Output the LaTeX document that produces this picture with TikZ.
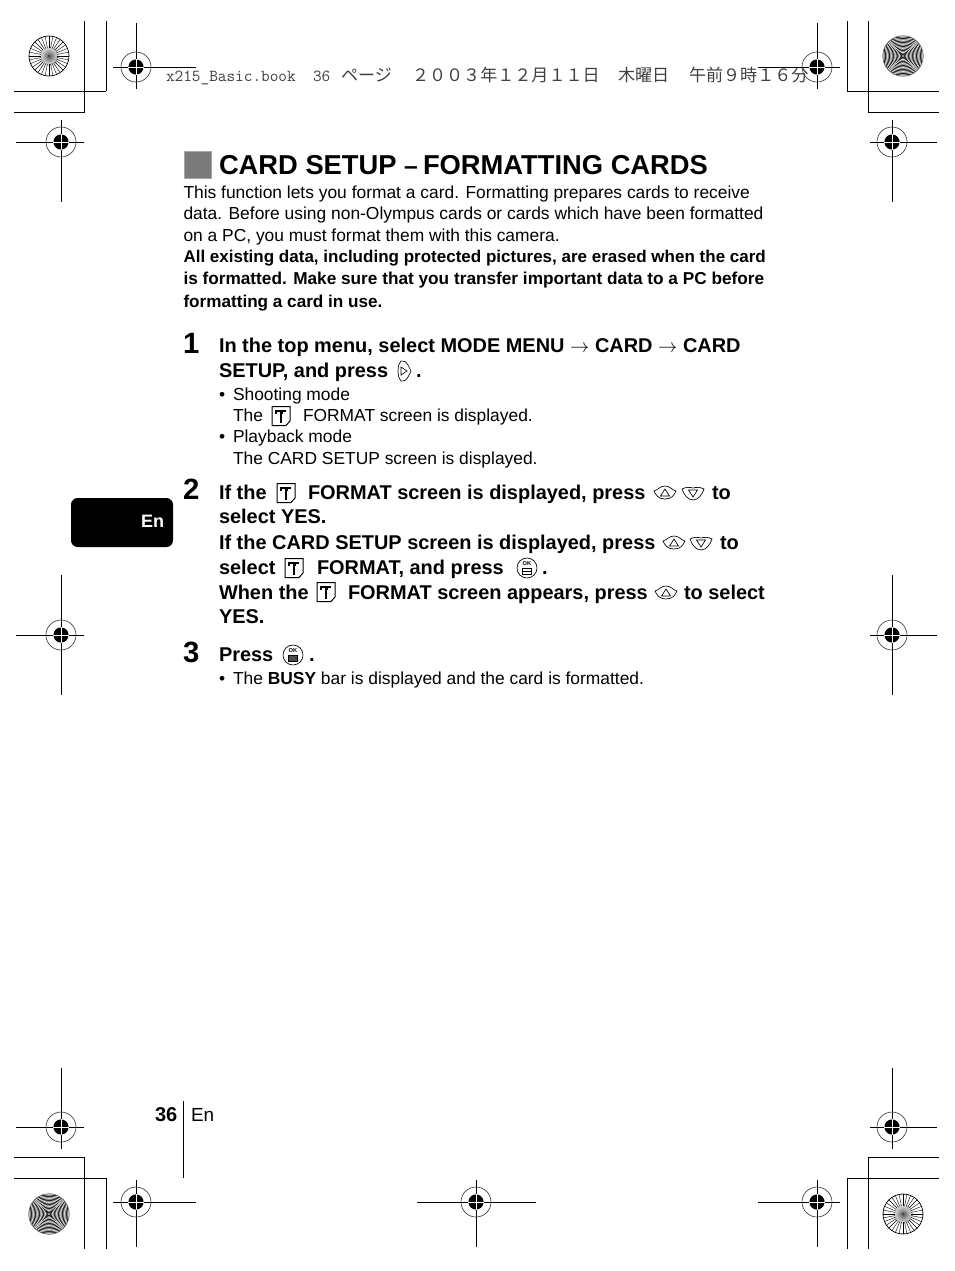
\documentclass[tikz,border=0pt]{standalone}
\usepackage{fontspec}
\setmainfont{Liberation Sans}
\newfontfamily\cjkfont{Noto Sans CJK JP}
\usetikzlibrary{calc}
\definecolor{hdr}{gray}{0.25}
\tikzset{
  x=0.75pt,y=-0.75pt,
  txt/.style={anchor=base west,inner sep=0pt,outer sep=0pt},
  body/.style={txt,font=\fontsize{13.05}{15}\selectfont},
  bodyb/.style={txt,font=\fontsize{12.85}{15}\selectfont\bfseries},
  stepb/.style={txt,font=\fontsize{14.95}{17}\selectfont\bfseries},
  num/.style={txt,font=\fontsize{22}{26}\selectfont\bfseries},
  headb/.style={txt,font=\fontsize{20.5}{26}\selectfont\bfseries},
  hdrmono/.style={txt,text=hdr,font=\fontsize{12.6}{15}\ttfamily},
  hdrcjk/.style={txt,text=hdr,font=\fontsize{12.8}{15}\cjkfont},
  crop/.style={line width=0.75pt,black},
  thin line/.style={line width=0.75pt,black},
  icon/.style={line width=0.5pt,black},
  cardicon/.pic={
    \draw[icon,line width=0.75pt] (-9,-9.5) -- (9,-9.5) -- (9,5) -- (5,9.5) -- (-9,9.5) -- cycle;
    \draw[icon,line width=0.95pt] (0,-5) -- (0,7);
    \draw[icon,line width=0.95pt] (-5,-2.5) -- (-5,-5) -- (5,-5);
    \draw[icon,line width=0.95pt] (-1.5,-3) -- (1.5,-3);
  },
  okicon/.pic={
    \draw[icon] (0,0) circle (10);
    \node[inner sep=0pt,font=\fontsize{4.3}{5}\selectfont\bfseries] at (0,-4.5) {OK};
    \draw[icon,fill=white] (-4.5,0) rectangle (4.5,6);
    \draw[icon,line width=0.4pt] (-4.5,3) -- (4.5,3);
  },
  okiconb/.pic={
    \draw[icon] (0,0) circle (10);
    \node[inner sep=0pt,font=\fontsize{4.3}{5}\selectfont\bfseries] at (0,-4.5) {OK};
    \draw[icon,fill=black!70] (-4.5,0) rectangle (4.5,6);
  },
  upicon/.pic={
    \draw[icon] (-11,-2) .. controls (-7,-3) and (-5,-7) .. (0,-7) .. controls (5,-7) and (7,-3) .. (11,-2) .. controls (9,2) and (7,6) .. (0,6) .. controls (-7,6) and (-9,2) .. (-11,-2) -- cycle;
    \draw[icon] (0,-4) -- (4.5,3) -- (-4.5,3) -- cycle;
  },
  downicon/.pic={
    \draw[icon] (-11,-4) .. controls (-7,-6) and (-4,-6) .. (0,-5) .. controls (4,-6) and (7,-6) .. (11,-4) .. controls (9,2) and (5,7) .. (0,7) .. controls (-5,7) and (-9,2) .. (-11,-4) -- cycle;
    \draw[icon] (0,4) -- (4.5,-3) -- (-4.5,-3) -- cycle;
  },
  righticon/.pic={
    \draw[icon] (-3,-10) .. controls (1,-10) and (3,-9) .. (4,-6) -- (7,0) -- (4,6) .. controls (3,9) and (1,10) .. (-3,10) .. controls (-6,6) and (-6,3) .. (-6,0) .. controls (-6,-3) and (-6,-6) .. (-3,-10) -- cycle;
    \draw[icon] (-3,-4) -- (3,0) -- (-3,4) -- cycle;
  },
}
\newcommand{\regmark}[7]{% name, cx, cy, x1, x2, y1, y2
  \coordinate (#1) at (#2,#3);
  \draw[thin line] (#4,#3) -- (#5,#3) (#2,#6) -- (#2,#7);
  \draw[line width=0.5pt,black!75] (#1) circle (15);
  \fill[black] (#1) circle (7.6);
  \draw[white,line width=0.75pt] ($(#1)+(-7.6,0)$) -- ($(#1)+(7.6,0)$) ($(#1)+(0,-7.6)$) -- ($(#1)+(0,7.6)$);
}
\newcommand{\spokes}[3]{% cx, cy, name
  \coordinate (#3) at (#1,#2);
  \shade[inner color=black!65,outer color=white] (#3) circle (11);
  \foreach \a in {0,11.25,...,349}{
    \draw[line width=0.3pt,black] (#3) ++(\a:8) -- ++(\a:12);
  }
  \fill[black!75] (#3) circle (1.2);
  \draw[line width=0.55pt,black] (#3) circle (20);
}
\newcommand{\moire}[3]{% cx, cy, name
  \coordinate (#3) at (#1,#2);
  \begin{scope}
    \clip (#3) circle (20.3);
    \fill[black!42] (#3) circle (20.3);
    \begin{scope}[shift={(#3)}]
    \foreach \k in {1.5,5.5,...,25.5}{
      \draw[line width=0.8pt,black!85] plot[smooth,domain=-2.2:2.2,samples=13] ({\k*cosh(\x)},{\k*sinh(\x)});
      \draw[line width=0.8pt,black!85] plot[smooth,domain=-2.2:2.2,samples=13] ({-\k*cosh(\x)},{\k*sinh(\x)});
      \draw[line width=0.8pt,black!85] plot[smooth,domain=-2.2:2.2,samples=13] ({\k*sinh(\x)},{\k*cosh(\x)});
      \draw[line width=0.8pt,black!85] plot[smooth,domain=-2.2:2.2,samples=13] ({\k*sinh(\x)},{-\k*cosh(\x)});
    }
    \foreach \k in {3.5,7.5,...,23.5}{
      \draw[line width=0.5pt,black!15] plot[smooth,domain=-2.2:2.2,samples=13] ({\k*cosh(\x)},{\k*sinh(\x)});
      \draw[line width=0.5pt,black!15] plot[smooth,domain=-2.2:2.2,samples=13] ({-\k*cosh(\x)},{\k*sinh(\x)});
      \draw[line width=0.5pt,black!15] plot[smooth,domain=-2.2:2.2,samples=13] ({\k*sinh(\x)},{\k*cosh(\x)});
      \draw[line width=0.5pt,black!15] plot[smooth,domain=-2.2:2.2,samples=13] ({\k*sinh(\x)},{-\k*cosh(\x)});
    }
    \end{scope}
  \end{scope}
  \draw[line width=0.4pt,black!60] (#3) circle (20.3);
}
\begin{document}
\begin{tikzpicture}
\path[use as bounding box,fill=white] (0,0) rectangle (954,1271);

% crop marks
\draw[crop] (84.5,21) -- (84.5,112) (14,112) -- (84.5,112) (106,21) -- (106,91) (14,91) -- (106,91);
\draw[crop] (847,21) -- (847,91) (847,91) -- (939,91) (868,21) -- (868,112) (868,112) -- (939,112);
\draw[crop] (14,1157) -- (84.5,1157) (84.5,1157) -- (84.5,1249) (14,1178) -- (106,1178) (106,1178) -- (106,1249);
\draw[crop] (868,1157) -- (939,1157) (868,1157) -- (868,1249) (847,1178) -- (939,1178) (847,1178) -- (847,1249);

\spokes{49}{56}{discTL}
\moire{903}{56}{discTR}
\moire{49}{1214}{discBL}
\spokes{903}{1214}{discBR}

% header text
\node[hdrmono] (h1) at (166,81) {x215\_Basic.book};
\node[hdrmono] (h2) at (313,81) {36};
\node[hdrcjk] (h3) at (341,81) {ページ};
\node[hdrcjk] (h4) at (412,81) {２００３年１２月１１日};
\node[hdrcjk] (h5) at (618,81) {木曜日};
\node[hdrcjk] (h6) at (689,81) {午前９時１６分};

% registration marks
\regmark{r1}{136}{67}{113}{196}{23}{89}
\regmark{r2}{61}{142}{16}{84}{120}{202}
\regmark{r3}{817}{67}{758}{840}{23}{89}
\regmark{r4}{892}{142}{870}{937}{120}{202}
\regmark{r5}{61}{635}{16}{84}{575}{695}
\regmark{r6}{892}{635}{870}{937}{575}{695}
\regmark{r7}{61}{1127}{16}{84}{1068}{1149}
\regmark{r8}{136}{1202}{113}{196}{1180}{1247}
\regmark{r9}{476}{1202}{417}{536}{1180}{1247}
\regmark{r10}{817}{1202}{758}{840}{1180}{1247}
\regmark{r11}{892}{1127}{870}{937}{1068}{1149}

% heading
\fill[black!52,draw=black!35,line width=0.5pt] (184,151) rectangle (211,178);
\node[headb] (title) at (219,174) {CARD SETUP};
\node[headb] (titledash) at (404,174) {\fontsize{18.5}{20}\selectfont –};
\node[headb] (title2) at (423,174) {FORMATTING CARDS};

% intro
\node[body] (p1) at (183.5,198) {This function lets you format a card. Formatting prepares cards to receive};
\node[body] (p2) at (183.5,219) {data. Before using non-Olympus cards or cards which have been formatted};
\node[body] (p3) at (183.5,241) {on a PC, you must format them with this camera.};
\node[bodyb,font=\fontsize{12.76}{15}\selectfont\bfseries] (p4) at (183.5,262) {All existing data, including protected pictures, are erased when the card};
\node[bodyb,font=\fontsize{12.92}{15}\selectfont\bfseries] (p5) at (183.5,284) {is formatted. Make sure that you transfer important data to a PC before};
\node[bodyb] (p6) at (183.5,307) {formatting a card in use.};

% step 1
\node[num] (n1) at (183,353) {1};
\node[stepb] (s1a) at (219,352) {In the top menu, select MODE MENU};
\node[stepb] (s1b) at (570,352) {$\rightarrow$};
\node[stepb] (s1c) at (595,352) {CARD};
\node[stepb] (s1d) at (658,352) {$\rightarrow$};
\node[stepb] (s1e) at (683,352) {CARD};
\node[stepb] (s1f) at (219,377) {SETUP, and press};
\pic at (404,371) {righticon};
\node[stepb] (s1g) at (416,377) {.};
\node[body] (b1) at (219,400) {•};
\node[body] (b1t) at (233,400) {Shooting mode};
\node[body] (b2) at (233,421) {The};
\pic at (281,416) {cardicon};
\node[body] (b2t) at (303,421) {FORMAT screen is displayed.};
\node[body] (b3) at (219,442) {•};
\node[body] (b3t) at (233,442) {Playback mode};
\node[body] (b4) at (233,464) {The CARD SETUP screen is displayed.};

% step 2
\node[num] (n2) at (183,499) {2};
\node[stepb] (s2a) at (219,499) {If the};
\pic at (286,493) {cardicon};
\node[stepb] (s2b) at (308,499) {FORMAT screen is displayed, press};
\pic at (665,493) {upicon};
\pic at (693,493) {downicon};
\node[stepb] (s2c) at (712,499) {to};
\node[stepb] (s2d) at (219,523) {select YES.};
\node[stepb] (s2e) at (219,549) {If the CARD SETUP screen is displayed, press};
\pic at (674,543) {upicon};
\pic at (701,543) {downicon};
\node[stepb] (s2f) at (720,549) {to};
\node[stepb] (s2g) at (219,574) {select};
\pic at (294,568) {cardicon};
\node[stepb] (s2h) at (317,574) {FORMAT, and press};
\pic at (527,568) {okicon};
\node[stepb] (s2i) at (542,574) {.};
\node[stepb] (s2j) at (219,599) {When the};
\pic at (326,592) {cardicon};
\node[stepb] (s2k) at (348,599) {FORMAT screen appears, press};
\pic at (666,593) {upicon};
\node[stepb] (s2l) at (684,599) {to select};
\node[stepb] (s2m) at (219,623) {YES.};

% step 3
\node[num] (n3) at (183,662) {3};
\node[stepb] (s3a) at (219,661) {Press};
\pic at (293,655) {okiconb};
\node[stepb] (s3b) at (309,661) {.};
\node[body] (b5) at (219,684) {•};
\node[body] (b5t) at (233,684) {The \textbf{BUSY} bar is displayed and the card is formatted.};

% side tab
\fill[black,rounded corners=5pt] (71,498) rectangle (173,547);
\node[txt,text=white,font=\fontsize{13.5}{16}\selectfont\bfseries] (tab) at (141,527) {En};

% footer
\node[txt,font=\fontsize{15}{18}\selectfont\bfseries] (pg) at (155,1121) {36};
\draw[thin line] (183,1101) -- (183,1178);
\node[txt,font=\fontsize{14.2}{18}\selectfont] (pgen) at (191,1121) {En};
\end{tikzpicture}
\end{document}
